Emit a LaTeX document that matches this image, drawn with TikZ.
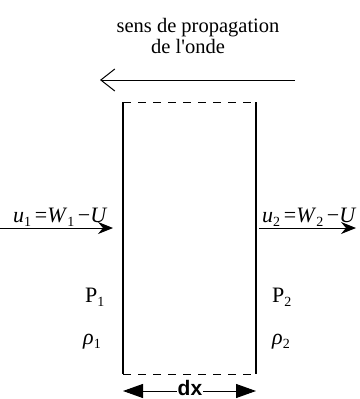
\documentclass[tikz,border=0pt]{standalone}
\usepackage{fontspec}
\setmainfont{Liberation Serif}
\setsansfont{Liberation Sans}
\usetikzlibrary{arrows.meta}
\newcommand{\idx}[1]{\raisebox{-0.4ex}{\fontsize{14}{14}\selectfont #1}}
\tikzset{
  lbl/.style={inner sep=0pt, anchor=base west, font=\fontsize{20.5}{24}\selectfont},
  big/.style={lbl, font=\fontsize{22}{26}\selectfont},
  wall/.style={line width=2.8pt},
  cut/.style={line width=1pt, dash pattern=on 8pt off 7pt},
  flow/.style={line width=1pt, -{Stealth[length=15pt,width=12pt,inset=5pt]}},
}
\begin{document}
\begin{tikzpicture}[x=1pt,y=-1pt]
    \useasboundingbox (0,0) rectangle (359,399);
    % Wave direction
    \node[lbl, anchor=base] (sens) at (198,32) {sens de propagation};
    \node[lbl, anchor=base] (onde) at (188,53) {de l\textquotesingle onde};
    \coordinate (pr) at (295,80);
    \coordinate (pl) at (100,80);
    \draw[line width=1pt, -{Straight Barb[length=14pt,width=22pt]}] (pr) -- (pl);

    % Element
    \coordinate (tl) at (123,102);
    \coordinate (tr) at (256,102);
    \coordinate (bl) at (123,374);
    \coordinate (br) at (256,374);
    \draw[cut] (tl) -- (tr);
    \draw[cut] (bl) -- (br);
    \draw[wall] (tl) -- (bl);
    \draw[wall] (tr) -- (br);

    % Left side
    \coordinate (a1) at (0,228);
    \coordinate (b1) at (113,228);
    \draw[flow] (a1) -- (b1);
    \node[big] (u1) at (13,222) {\textit{u}\idx{1}\,=\textit{W}\idx{1}\,\textminus\textit{U}};
    \node[big] (p1) at (85,302) {P\idx{1}};
    \node[big] (r1) at (83,344) {\textit{ρ}\idx{1}};

    % Right side
    \coordinate (a2) at (259,228);
    \coordinate (b2) at (356,228);
    \draw[flow] (a2) -- (b2);
    \node[big] (u2) at (262,222) {\textit{u}\idx{2}\,=\textit{W}\idx{2}\,\textminus\textit{U}};
    \node[big] (p2) at (272,302) {P\idx{2}};
    \node[big] (r2) at (272,344) {\textit{ρ}\idx{2}};

    % Width of the element
    \node[inner sep=0pt, font=\sffamily\bfseries\fontsize{21}{24}\selectfont] (dx) at (190,388) {dx};
    \coordinate (dxl) at (123,391);
    \coordinate (dxr) at (256,391);
    \draw[line width=1pt, -{Triangle[length=20pt,width=14pt]}] ([xshift=-1pt]dx.west |- dxl) -- (dxl);
    \draw[line width=1pt, -{Triangle[length=20pt,width=14pt]}] ([xshift=1pt]dx.east |- dxr) -- (dxr);
\end{tikzpicture}
\end{document}
